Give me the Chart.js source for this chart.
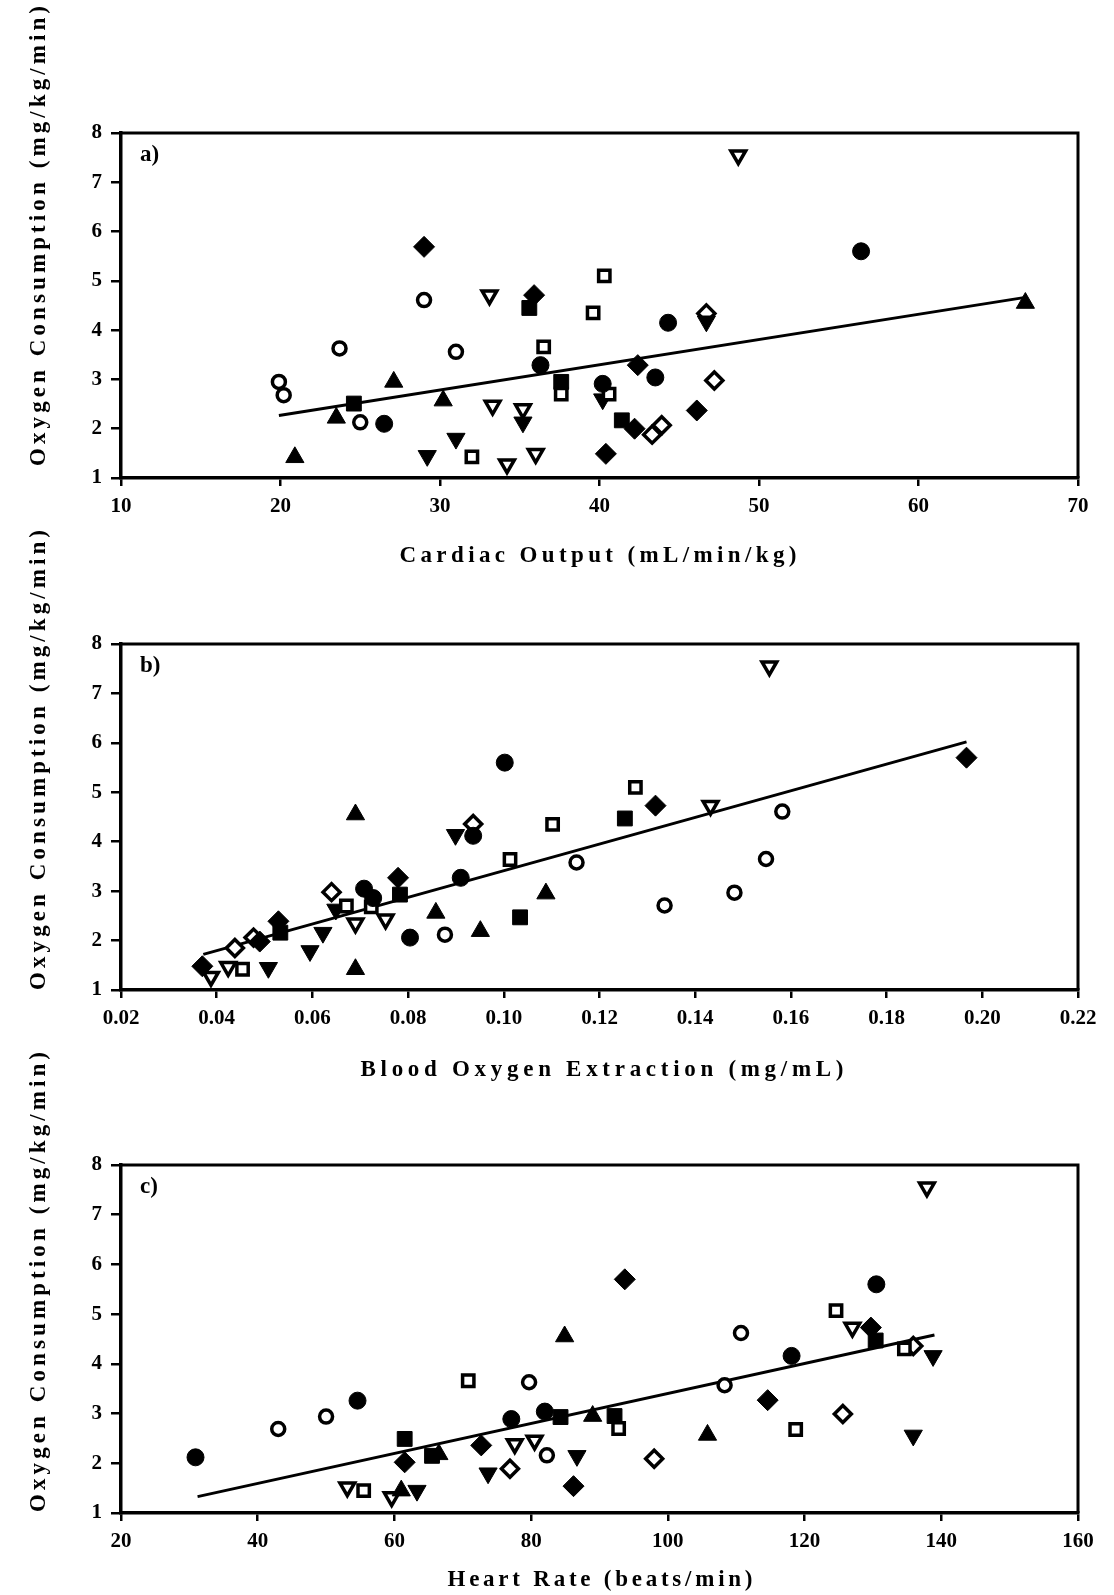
<!DOCTYPE html>
<html>
<head>
<meta charset="utf-8">
<script src="https://cdn.jsdelivr.net/npm/chart.js@4.4.1/dist/chart.umd.min.js"></script>
<style>
  body { margin: 0; background: #fff; }
  #wrap { position: relative; width: 1114px; height: 1595px; background: #fff; }
  #wrap canvas { position: absolute; left: 0; top: 0; }
</style>
</head>
<body>
<div id="wrap">
  <canvas id="chartA" width="1114" height="1595"></canvas>
  <canvas id="chartB" width="1114" height="1595"></canvas>
  <canvas id="chartC" width="1114" height="1595"></canvas>
</div>
<script>
// one series per marker symbol, same order in every panel
var seriesNames = ['filled circle', 'open circle', 'filled square', 'open square',
  'filled triangle up', 'filled triangle down', 'open triangle down', 'filled diamond', 'open diamond'];

var yTicks = [1, 2, 3, 4, 5, 6, 7, 8];

// a) oxygen consumption vs cardiac output, [x, y]
var aFilledCircle = [[26.5, 2.10], [36.3, 3.29], [40.2, 2.91], [43.5, 3.04], [44.3, 4.15], [56.4, 5.60]];
var aOpenCircle = [[19.9, 2.95], [20.2, 2.68], [23.7, 3.63], [25.0, 2.13], [29.0, 4.61], [31.0, 3.56]];
var aFilledSquare = [[24.6, 2.51], [35.6, 4.45], [37.6, 2.95], [41.4, 2.17]];
var aOpenSquare = [[32.0, 1.43], [36.5, 3.66], [37.6, 2.70], [39.6, 4.35], [40.3, 5.10], [40.6, 2.70]];
var aFilledUp = [[20.9, 1.42], [23.5, 2.22], [27.1, 2.95], [30.2, 2.57], [66.7, 4.55]];
var aFilledDown = [[29.2, 1.45], [31.0, 1.80], [35.2, 2.13], [40.2, 2.60], [46.7, 4.18]];
var aOpenDown = [[33.1, 4.71], [33.3, 2.47], [34.2, 1.28], [35.2, 2.40], [36.0, 1.49], [48.7, 7.55]];
var aFilledDiamond = [[29.0, 5.69], [35.9, 4.71], [40.4, 1.49], [42.2, 2.00], [42.4, 3.29], [46.1, 2.37]];
var aOpenDiamond = [[43.3, 1.88], [43.9, 2.07], [46.7, 4.34], [47.2, 2.98]];
var aFit = [[19.9, 2.27], [66.6, 4.66]];
var aXTicks = [10, 20, 30, 40, 50, 60, 70];

// b) oxygen consumption vs blood oxygen extraction
var bFilledCircle = [[0.0708, 3.05], [0.0727, 2.86], [0.0804, 2.06], [0.0910, 3.27], [0.0936, 4.12], [0.1002, 5.60]];
var bOpenCircle = [[0.0877, 2.12], [0.1152, 3.58], [0.1336, 2.71], [0.1482, 2.97], [0.1548, 3.65], [0.1582, 4.61]];
var bFilledSquare = [[0.0533, 2.16], [0.0783, 2.93], [0.1034, 2.47], [0.1253, 4.47]];
var bOpenSquare = [[0.0454, 1.42], [0.0671, 2.70], [0.0723, 2.68], [0.1013, 3.64], [0.1102, 4.35], [0.1275, 5.10]];
var bFilledUp = [[0.0690, 4.55], [0.0690, 1.42], [0.0858, 2.56], [0.0951, 2.19], [0.1088, 2.95]];
var bFilledDown = [[0.0508, 1.45], [0.0595, 1.79], [0.0622, 2.16], [0.0649, 2.63], [0.0899, 4.14]];
var bOpenDown = [[0.0388, 1.27], [0.0424, 1.47], [0.0690, 2.35], [0.0753, 2.43], [0.1432, 4.73], [0.1555, 7.55]];
var bFilledDiamond = [[0.0370, 1.48], [0.0490, 1.98], [0.0529, 2.39], [0.0779, 3.27], [0.1317, 4.73], [0.1967, 5.70]];
var bOpenDiamond = [[0.0438, 1.85], [0.0477, 2.06], [0.0640, 2.98], [0.0936, 4.36]];
var bFit = [[0.0372, 1.72], [0.1967, 6.02]];
var bXTicks = [0.02, 0.04, 0.06, 0.08, 0.10, 0.12, 0.14, 0.16, 0.18, 0.20, 0.22];

// c) oxygen consumption vs heart rate
var cFilledCircle = [[30.9, 2.12], [54.6, 3.26], [77.1, 2.89], [82.0, 3.04], [118.1, 4.16], [130.5, 5.60]];
var cOpenCircle = [[43.0, 2.69], [50.0, 2.94], [79.7, 3.63], [82.3, 2.16], [108.3, 3.57], [110.7, 4.62]];
var cFilledSquare = [[61.5, 2.49], [65.5, 2.15], [84.3, 2.93], [92.2, 2.95], [130.4, 4.47]];
var cOpenSquare = [[55.5, 1.45], [70.8, 3.66], [92.8, 2.70], [118.7, 2.68], [124.6, 5.07], [134.6, 4.30]];
var cFilledUp = [[61.0, 1.45], [66.5, 2.18], [84.9, 4.55], [89.0, 2.95], [105.8, 2.57]];
var cFilledDown = [[63.3, 1.45], [73.7, 1.80], [86.7, 2.15], [135.9, 2.56], [138.8, 4.16]];
var cOpenDown = [[53.1, 1.52], [59.6, 1.32], [77.6, 2.39], [80.5, 2.46], [127.0, 4.73], [137.9, 7.55]];
var cFilledDiamond = [[61.5, 2.02], [72.7, 2.36], [86.2, 1.54], [93.7, 5.70], [114.6, 3.27], [129.7, 4.73]];
var cOpenDiamond = [[76.9, 1.89], [98.0, 2.09], [125.6, 2.99], [135.9, 4.36]];
var cFit = [[31.2, 1.33], [139.0, 4.58]];
var cXTicks = [20, 40, 60, 80, 100, 120, 140, 160];

var yTitle = 'Oxygen Consumption (mg/kg/min)';

// marker look for each series (index matches seriesNames)
var markers = [
  { style: 'circle', r: 8.5, fill: '#000', bw: 1 },
  { style: 'circle', r: 6.5, fill: '#fff', bw: 3.5 },
  { style: 'rect', r: 10.5, fill: '#000', bw: 1 },
  { style: 'rect', r: 8, fill: '#fff', bw: 3.5 },
  { style: 'triangle', r: 10.5, fill: '#000', bw: 1 },
  { style: 'triangle', r: 10.5, fill: '#000', bw: 1, rot: 180 },
  { style: 'triangle', r: 8.5, fill: '#fff', bw: 3.5, rot: 180 },
  { style: 'rectRot', r: 10.5, fill: '#000', bw: 1 },
  { style: 'rectRot', r: 8.5, fill: '#fff', bw: 3.5 }
];

function toXY(pts) {
  return pts.map(function(p) { return { x: p[0], y: p[1] }; });
}

// spread a bold title out to a given length, like the spaced lettering of the figure
function spacedText(ctx, text, cx, cy, len, angle) {
  ctx.save();
  ctx.font = 'bold 23px "Liberation Serif"';
  ctx.letterSpacing = '0px';
  var w = ctx.measureText(text).width;
  var gap = (len - w) / (text.length - 1);
  ctx.letterSpacing = gap + 'px';
  ctx.translate(cx, cy);
  ctx.rotate(angle);
  ctx.textAlign = 'left';
  ctx.textBaseline = 'middle';
  ctx.fillStyle = '#000';
  ctx.fillText(text, -len / 2, 0);
  ctx.restore();
}

var panelDecor = {
  id: 'panelDecor',
  afterDraw: function(chart) {
    var o = chart.options.plugins.panelDecor;
    var a = chart.chartArea;
    var ctx = chart.ctx;
    ctx.save();
    // top and right frame
    ctx.strokeStyle = '#000';
    ctx.lineWidth = 3;
    ctx.beginPath();
    ctx.moveTo(a.left, a.top);
    ctx.lineTo(a.right, a.top);
    ctx.lineTo(a.right, a.bottom);
    ctx.stroke();
    // panel letter
    ctx.fillStyle = '#000';
    ctx.font = 'bold 23px "Liberation Serif"';
    ctx.textAlign = 'left';
    ctx.textBaseline = 'middle';
    ctx.fillText(o.tag, a.left + 19, a.top + 22);
    ctx.restore();
    spacedText(ctx, o.xTitle, o.xTitleX, o.xTitleY, o.xTitleLen, 0);
    spacedText(ctx, yTitle, 39, o.yTitleY, 460, -Math.PI / 2);
  }
};

function buildPanel(id, p) {
  var datasets = p.series.map(function(pts, i) {
    var m = markers[i];
    return {
      label: seriesNames[i],
      data: toXY(pts),
      pointStyle: m.style,
      pointRadius: m.r,
      pointHoverRadius: m.r,
      pointRotation: m.rot || 0,
      pointBackgroundColor: m.fill,
      pointBorderColor: '#000',
      pointBorderWidth: m.bw,
      showLine: false
    };
  });
  // regression line goes last so it is painted under the symbols
  datasets.push({
    label: 'fit',
    data: toXY(p.fit),
    showLine: true,
    borderColor: '#000',
    borderWidth: 3,
    pointRadius: 0,
    fill: false
  });

  var tickFont = { family: 'Liberation Serif', weight: 'bold', size: 21 };

  return new Chart(document.getElementById(id), {
    type: 'scatter',
    data: { datasets: datasets },
    plugins: [panelDecor],
    options: {
      responsive: false,
      animation: false,
      layout: {
        autoPadding: false,
        padding: { left: 61, right: 36, top: p.top, bottom: 1595 - p.bottom - 40 }
      },
      plugins: {
        legend: { display: false },
        tooltip: { enabled: false },
        panelDecor: p.decor
      },
      scales: {
        x: {
          type: 'linear',
          min: p.xTicks[0],
          max: p.xTicks[p.xTicks.length - 1],
          afterBuildTicks: function(s) { s.ticks = p.xTicks.map(function(v) { return { value: v }; }); },
          afterFit: function(s) { s.height = 40; },
          ticks: {
            color: '#000', font: tickFont, padding: 8, maxRotation: 0, autoSkip: false,
            callback: p.fmt
          },
          grid: { display: true, drawOnChartArea: false, drawTicks: true, tickLength: 8, color: '#000', lineWidth: 2.5 },
          border: { display: true, color: '#000', width: 3.5 }
        },
        y: {
          min: 1,
          max: 8,
          afterBuildTicks: function(s) { s.ticks = yTicks.map(function(v) { return { value: v }; }); },
          afterFit: function(s) { s.width = 60; },
          ticks: { color: '#000', font: tickFont, padding: 9 },
          grid: { display: true, drawOnChartArea: false, drawTicks: true, tickLength: 10, color: '#000', lineWidth: 2.5 },
          border: { display: true, color: '#000', width: 3.5 }
        }
      }
    }
  });
}

buildPanel('chartA', {
  series: [aFilledCircle, aOpenCircle, aFilledSquare, aOpenSquare, aFilledUp, aFilledDown, aOpenDown, aFilledDiamond, aOpenDiamond],
  fit: aFit, xTicks: aXTicks, top: 133, bottom: 478,
  fmt: function(v) { return String(v); },
  decor: { tag: 'a)', xTitle: 'Cardiac Output (mL/min/kg)', xTitleX: 598, xTitleY: 556, xTitleLen: 397, yTitleY: 236 }
});

buildPanel('chartB', {
  series: [bFilledCircle, bOpenCircle, bFilledSquare, bOpenSquare, bFilledUp, bFilledDown, bOpenDown, bFilledDiamond, bOpenDiamond],
  fit: bFit, xTicks: bXTicks, top: 644, bottom: 990,
  fmt: function(v) { return v.toFixed(2); },
  decor: { tag: 'b)', xTitle: 'Blood Oxygen Extraction (mg/mL)', xTitleX: 602, xTitleY: 1070, xTitleLen: 483, yTitleY: 760 }
});

buildPanel('chartC', {
  series: [cFilledCircle, cOpenCircle, cFilledSquare, cOpenSquare, cFilledUp, cFilledDown, cOpenDown, cFilledDiamond, cOpenDiamond],
  fit: cFit, xTicks: cXTicks, top: 1165, bottom: 1513,
  fmt: function(v) { return String(v); },
  decor: { tag: 'c)', xTitle: 'Heart Rate (beats/min)', xTitleX: 600, xTitleY: 1580, xTitleLen: 305, yTitleY: 1282 }
});
</script>
</body>
</html>
